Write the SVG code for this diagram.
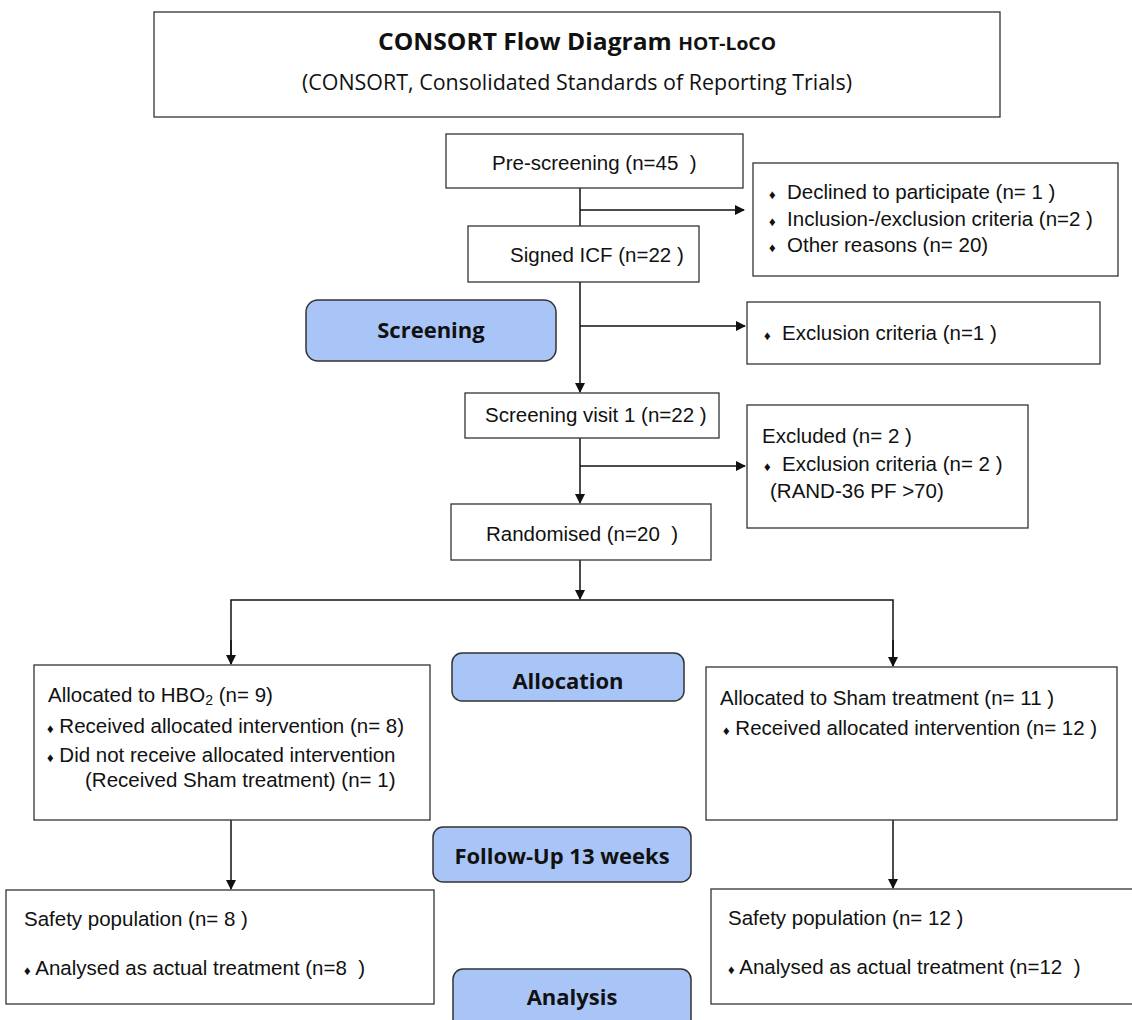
<svg xmlns="http://www.w3.org/2000/svg" width="1132" height="1020" viewBox="0 0 1132 1020">
<style>
.box{fill:#fff;stroke:#333;stroke-width:1.3}
.pill{fill:#a9c5f7;stroke:#333;stroke-width:1.5}
.t{font-family:"Liberation Sans",Arial,sans-serif;font-size:20.5px;fill:#111;white-space:pre}
.b{font-size:13px}
.h{font-family:"Open Sans","Liberation Sans",sans-serif;font-weight:bold;font-size:22px;fill:#111;text-anchor:middle}
.ttl{font-family:"Liberation Sans Narrow","Open Sans","Liberation Sans",sans-serif;fill:#111;text-anchor:middle}
.ln{stroke:#111;stroke-width:1.5;fill:none}
</style>
<defs>
<marker id="ah" markerWidth="10" markerHeight="10" refX="9" refY="5" orient="auto" markerUnits="userSpaceOnUse">
<path d="M0,0 L10,5 L0,10 Z" fill="#111"/>
</marker>
</defs>
<rect width="1132" height="1020" fill="#fff"/>

<g id="title">
<rect class="box" x="154" y="12" width="846" height="105"/>
<text class="ttl" x="577" y="50" font-weight="bold" font-size="23" textLength="398" lengthAdjust="spacingAndGlyphs">CONSORT Flow Diagram <tspan font-size="18">HOT-LoCO</tspan></text>
<text class="ttl" x="577" y="90" font-size="21" textLength="550" lengthAdjust="spacingAndGlyphs">(CONSORT, Consolidated Standards of Reporting Trials)</text>
</g>

<g id="connectors">
<line class="ln" x1="580" y1="188" x2="580" y2="226"/>
<line class="ln" x1="580" y1="210" x2="744" y2="210" marker-end="url(#ah)"/>
<line class="ln" x1="580" y1="282" x2="580" y2="392" marker-end="url(#ah)"/>
<line class="ln" x1="580" y1="326" x2="745" y2="326" marker-end="url(#ah)"/>
<line class="ln" x1="580" y1="438" x2="580" y2="503" marker-end="url(#ah)"/>
<line class="ln" x1="580" y1="466" x2="745" y2="466" marker-end="url(#ah)"/>
<line class="ln" x1="580" y1="560" x2="580" y2="599" marker-end="url(#ah)"/>
<polyline class="ln" points="231,664 231,600 893,600 893,666" />
<line class="ln" x1="231" y1="640" x2="231" y2="664" marker-end="url(#ah)"/>
<line class="ln" x1="893" y1="640" x2="893" y2="666" marker-end="url(#ah)"/>
<line class="ln" x1="231" y1="820" x2="231" y2="889" marker-end="url(#ah)"/>
<line class="ln" x1="893" y1="820" x2="893" y2="888" marker-end="url(#ah)"/>
</g>

<g id="prescreening">
<rect class="box" x="446" y="134" width="297" height="54"/>
<text class="t" x="492" y="170">Pre-screening (n=45  )</text>
</g>

<g id="excluded1">
<rect class="box" x="753" y="163" width="365" height="113"/>
<text class="t" x="769" y="199"><tspan class="b">♦</tspan>  Declined to participate (n= 1 )</text>
<text class="t" x="769" y="226"><tspan class="b">♦</tspan>  Inclusion-/exclusion criteria (n=2 )</text>
<text class="t" x="769" y="252"><tspan class="b">♦</tspan>  Other reasons (n= 20)</text>
</g>

<g id="signedicf">
<rect class="box" x="468" y="226" width="231" height="56"/>
<text class="t" x="510" y="262">Signed ICF (n=22 )</text>
</g>

<g id="screening">
<rect class="pill" x="306" y="300" width="250" height="61" rx="12"/>
<text class="h" x="431" y="338">Screening</text>
</g>

<g id="excluded2">
<rect class="box" x="747" y="302" width="353" height="62"/>
<text class="t" x="764" y="340"><tspan class="b">♦</tspan>  Exclusion criteria (n=1 )</text>
</g>

<g id="visit1">
<rect class="box" x="465" y="393" width="254" height="45"/>
<text class="t" x="485" y="422">Screening visit 1 (n=22 )</text>
</g>

<g id="excluded3">
<rect class="box" x="747" y="405" width="281" height="123"/>
<text class="t" x="762" y="443">Excluded (n= 2 )</text>
<text class="t" x="764" y="471"><tspan class="b">♦</tspan>  Exclusion criteria (n= 2 )</text>
<text class="t" x="770" y="498">(RAND-36 PF &gt;70)</text>
</g>

<g id="randomised">
<rect class="box" x="451" y="504" width="260" height="56"/>
<text class="t" x="486" y="541">Randomised (n=20  )</text>
</g>

<g id="allocation">
<rect class="pill" x="452" y="653" width="232" height="48" rx="10"/>
<text class="h" x="568" y="689">Allocation</text>
</g>

<g id="alloc-hbo">
<rect class="box" x="34" y="665" width="396" height="155"/>
<text class="t" x="48" y="702">Allocated to HBO<tspan font-size="14" dy="3">2</tspan><tspan dy="-3"> (n= 9)</tspan></text>
<text class="t" x="47" y="733"><tspan class="b">♦</tspan> Received allocated intervention (n= 8)</text>
<text class="t" x="47" y="762"><tspan class="b">♦</tspan> Did not receive allocated intervention</text>
<text class="t" x="85" y="787">(Received Sham treatment) (n= 1)</text>
</g>

<g id="alloc-sham">
<rect class="box" x="706" y="667" width="411" height="153"/>
<text class="t" x="720" y="705">Allocated to Sham treatment (n= 11 )</text>
<text class="t" x="723" y="735"><tspan class="b">♦</tspan> Received allocated intervention (n= 12 )</text>
</g>

<g id="followup">
<rect class="pill" x="433" y="827" width="258" height="55" rx="10"/>
<text class="h" x="562" y="864">Follow-Up 13 weeks</text>
</g>

<g id="safety-hbo">
<rect class="box" x="6" y="890" width="428" height="114"/>
<text class="t" x="24" y="926">Safety population (n= 8 )</text>
<text class="t" x="24" y="975"><tspan class="b">♦</tspan> Analysed as actual treatment (n=8  )</text>
</g>

<g id="safety-sham">
<rect class="box" x="711" y="889" width="430" height="115"/>
<text class="t" x="728" y="925">Safety population (n= 12 )</text>
<text class="t" x="728" y="974"><tspan class="b">♦</tspan> Analysed as actual treatment (n=12  )</text>
</g>

<g id="analysis">
<rect class="pill" x="453" y="969" width="238" height="70" rx="10"/>
<text class="h" x="572" y="1005">Analysis</text>
</g>
</svg>
